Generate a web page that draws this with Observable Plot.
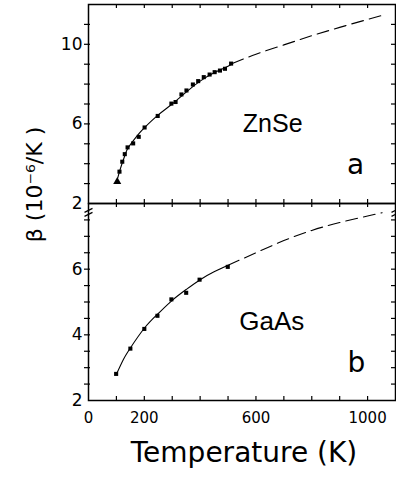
<!DOCTYPE html>
<html><head><meta charset="utf-8">
<script src="https://cdn.jsdelivr.net/npm/d3@7"></script>
<script src="https://cdn.jsdelivr.net/npm/@observablehq/plot@0.6"></script>
<style>
body{margin:0;background:#fff;}
#chart{position:relative;width:396px;height:482px;font-family:"DejaVu Sans",sans-serif;}
#chart svg{position:absolute;left:0;overflow:visible;background:transparent;}
</style></head><body><div id="chart"></div>
<script>
// ZnSe measured points (T in K, beta in 1e-6/K)
const znseT = [103,111,121,130,140,160,180,201,248,297,312,333,351,374,393,413,434,452,471,489,511];
const znseB = [3.1,3.6,4.1,4.48,4.82,5.02,5.35,5.82,6.4,7.02,7.1,7.48,7.68,7.98,8.15,8.35,8.48,8.6,8.68,8.77,9.03];
// ZnSe fitted curve (solid) and extrapolation (dashed)
const znseFitT = [100,110,120,130,140,160,180,200,250,300,350,400,450,500,515];
const znseFitB = [3.05,3.55,4.0,4.4,4.75,5.15,5.5,5.8,6.45,7.0,7.6,8.15,8.57,8.9,9.03];
const znseExtT = [515,600,700,800,900,1000,1052];
const znseExtB = [9.03,9.5,9.97,10.43,10.85,11.25,11.45];
// GaAs measured points
const gaasT = [99,150,200,247,297,350,398,499];
const gaasB = [2.81,3.58,4.18,4.58,5.08,5.28,5.68,6.07];
// GaAs fitted curve and extrapolation
const gaasFitT = [100,125,150,200,250,300,350,400,450,500];
const gaasFitB = [2.8,3.25,3.6,4.2,4.65,5.05,5.38,5.68,5.92,6.12];
const gaasExtT = [500,600,700,800,900,1000,1052];
const gaasExtB = [6.12,6.5,6.87,7.18,7.42,7.62,7.72];
// tick labels
const xTickLabels = [0,200,600,1000];
const xMinorTicks = [100,200,300,400,500,600,700,800,900,1000];
const topYTickLabels = [2,6,10];
const topYMinor = [3,4,5,6,7,8,9,10,11];
const botYTickLabels = [2,4,6];
const botYMinor = [2.5,3,3.5,4,4.5,5,5.5,6,6.5,7,7.5];
// axis-break positions (x ends of the bottom panel's y axis)
const breakT = [0, 1100];

const zip = (a, b) => a.map((v, i) => ({t: v, b: b[i], i}));
const W = 396, ML = 88, MR = 1;
const FW = W - ML - MR;
const font = "DejaVu Sans, sans-serif";
const nameFont = "Liberation Sans, Arial, sans-serif";

// double-slash axis break symbol
const breakSymbol = {
  draw(ctx) {
    ctx.moveTo(-4, -1); ctx.lineTo(4, -5);
    ctx.moveTo(-4, 3); ctx.lineTo(4, -1);
  }
};

function panelMarks(fh, yMinor, pts, fit, ext) {
  return [
    Plot.frame({stroke: "black", strokeWidth: 1.5}),
    Plot.ruleX(xMinorTicks, {x: d => d, insetBottom: fh - 4, strokeWidth: 1.2}),
    Plot.ruleX(xMinorTicks, {x: d => d, insetTop: fh - 4, strokeWidth: 1.2}),
    Plot.ruleY(yMinor, {y: d => d, insetLeft: -4, insetRight: FW - 2, strokeWidth: 1.2}),
    Plot.ruleY(yMinor, {y: d => d, insetLeft: FW - 4, strokeWidth: 1.2}),
    Plot.line(fit, {x: "t", y: "b", curve: "natural", strokeWidth: 1.1}),
    Plot.line(ext, {x: "t", y: "b", curve: "natural", strokeWidth: 1.1, strokeDasharray: "12,6"}),
    Plot.dot(pts.filter(d => d.i > 0), {x: "t", y: "b", symbol: "square", r: 2.3, fill: "black", stroke: "none"}),
  ];
}

const topH = 204, topMT = 4, topMB = 1;
const topFH = topH - topMT - topMB;
const topPlot = Plot.plot({
  width: W, height: topH, marginLeft: ML, marginRight: MR, marginTop: topMT, marginBottom: topMB,
  style: {fontFamily: font, overflow: "visible", background: "transparent"},
  x: {domain: [0, 1100], axis: null},
  y: {domain: [2, 12], label: null},
  marks: [
    ...panelMarks(topFH, topYMinor, zip(znseT, znseB), zip(znseFitT, znseFitB), zip(znseExtT, znseExtB)),
    Plot.dot(zip(znseT, znseB).filter(d => d.i === 0), {x: "t", y: "b", symbol: "triangle", r: 3, fill: "black", stroke: "none"}),
    Plot.axisY(topYTickLabels, {tickSize: 0, tickPadding: 6, fontSize: 17, label: null}),
    Plot.text(["ZnSe"], {x: () => 660, y: () => 6.0, fontSize: 25, fontFamily: nameFont, lineAnchor: "middle"}),
    Plot.text(["a"], {x: () => 957, y: () => 3.94, fontSize: 28, lineAnchor: "middle"}),
    Plot.text(["β (10⁻⁶/K )"], {frameAnchor: "top-left", dx: -54, dy: 180, rotate: -90, fontSize: 22, textAnchor: "middle", lineAnchor: "middle"})
  ]
});
topPlot.style.top = "0px";

const botTop = 199, botH = 482 - botTop, botMT = 4, botMB = botH - (400 - botTop);
const botFH = botH - botMT - botMB;
const botPlot = Plot.plot({
  width: W, height: botH, marginLeft: ML, marginRight: MR, marginTop: botMT, marginBottom: botMB,
  style: {fontFamily: font, overflow: "visible", background: "transparent"},
  x: {domain: [0, 1100], label: null},
  y: {domain: [2, 8], label: null},
  marks: [
    ...panelMarks(botFH, botYMinor, zip(gaasT, gaasB), zip(gaasFitT, gaasFitB), zip(gaasExtT, gaasExtB)),
    Plot.dot(zip(gaasT, gaasB).filter(d => d.i === 0), {x: "t", y: "b", symbol: "square", r: 2.3, fill: "black", stroke: "none"}),
    Plot.axisY(botYTickLabels, {tickSize: 0, tickPadding: 6, fontSize: 17, label: null}),
    Plot.axisX(xTickLabels, {tickSize: 0, tickPadding: 12, fontSize: 15, label: null, tickFormat: d => String(d)}),
    Plot.text(["GaAs"], {x: () => 657, y: () => 4.41, fontSize: 26, fontFamily: nameFont, lineAnchor: "middle"}),
    Plot.text(["b"], {x: () => 960, y: () => 3.13, fontSize: 28, lineAnchor: "middle"}),
    Plot.dot(breakT, {x: d => d, y: () => 7.7, symbol: breakSymbol, stroke: "black", fill: "none", strokeWidth: 1.2}),
    Plot.text(["Temperature (K)"], {frameAnchor: "bottom", dx: 2, dy: 53, fontSize: 28, lineAnchor: "middle"})
  ]
});
botPlot.style.top = botTop + "px";

const chart = document.getElementById("chart");
chart.appendChild(topPlot);
chart.appendChild(botPlot);
</script></body></html>
